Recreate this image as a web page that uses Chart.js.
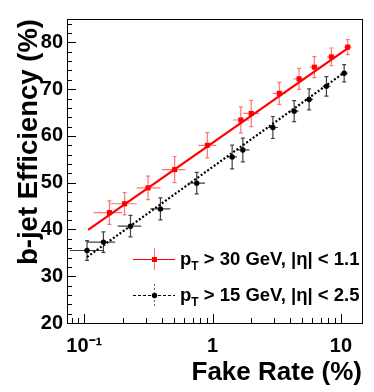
<!DOCTYPE html>
<html><head><meta charset="utf-8">
<script src="https://cdn.jsdelivr.net/npm/chart.js@4"></script>
<style>html,body{margin:0;padding:0;background:#fff}#c{display:block}</style>
</head><body>
<canvas id="c" width="374" height="392"></canvas>
<script>
// ---- data ----
const redX      = [0.157,0.206,0.314,0.506,0.910,1.66,2.00,3.31,4.72,6.21,8.43,11.3];
const redY      = [43.6,45.5,48.9,52.8,58.0,63.4,64.8,69.1,72.2,74.7,76.9,79.0];
const redYErr   = [2.5,2.4,2.5,2.8,2.7,2.8,2.8,2.35,2.25,2.25,1.9,1.6];
const redXErrLo = [0.039,0.047,0.059,0.103,0.136,0.22,0.27,0.37,0.44,0.50,0.62,0.72];
const redXErrHi = [0.040,0.051,0.078,0.107,0.159,0.26,0.31,0.42,0.49,0.55,0.68,0.78];

const blackX      = [0.105,0.141,0.229,0.392,0.752,1.42,1.72,2.95,4.32,5.65,7.71,10.6];
const blackY      = [35.5,37.3,40.7,44.4,49.9,55.5,57.0,61.8,65.3,67.8,70.6,73.4];
const blackYErr   = [2.1,2.2,2.3,2.35,2.3,2.55,2.55,2.35,2.25,2.25,2.1,1.85];
const blackXErrLo = [0.028,0.036,0.047,0.065,0.105,0.12,0.19,0.25,0.34,0.39,0.53,0.68];
const blackXErrHi = [0.035,0.033,0.049,0.077,0.121,0.13,0.22,0.28,0.36,0.42,0.58,0.73];

const redFitX   = [0.107, 11.5];
const redFitY   = [39.9, 78.9];
const blackFitX = [0.105, 10.8];
const blackFitY = [34.1, 73.7];

const xTicks      = [0.1, 1, 10];
const xTickLabels = ['10\u207B\u00B9', '1', '10'];
const yTicks      = [20, 30, 40, 50, 60, 70, 80];

const legendMain = ['p', 'p'];
const legendSub  = ['T', 'T'];
const legendRest = [' > 30 GeV, |\u03B7| < 1.1', ' > 15 GeV, |\u03B7| < 2.5'];

const xTitle = 'Fake Rate (%)';
const yTitle = 'b-jet Efficiency (%)';

const FONT = "'Liberation Sans', Arial, Helvetica, sans-serif";
const RED = '#ff0000';

function pts(xs, ys) { return xs.map((x, i) => ({x: x, y: ys[i]})); }

const errSets = [
  {x: redX, y: redY, ye: redYErr, xlo: redXErrLo, xhi: redXErrHi, color: 'rgba(255,0,0,0.55)'},
  {x: blackX, y: blackY, ye: blackYErr, xlo: blackXErrLo, xhi: blackXErrHi, color: 'rgba(0,0,0,0.75)'}
];

const errorBars = {
  id: 'errorBars',
  beforeDatasetsDraw(chart) {
    const {ctx, scales: {x, y}} = chart;
    ctx.save();
    ctx.lineWidth = 1.2;
    errSets.forEach(s => {
      ctx.strokeStyle = s.color;
      ctx.beginPath();
      s.x.forEach((xv, i) => {
        const px = x.getPixelForValue(xv), py = y.getPixelForValue(s.y[i]);
        const pl = x.getPixelForValue(xv - s.xlo[i]), pr = x.getPixelForValue(xv + s.xhi[i]);
        const pt = y.getPixelForValue(s.y[i] + s.ye[i]), pb = y.getPixelForValue(s.y[i] - s.ye[i]);
        ctx.moveTo(pl, py); ctx.lineTo(pr, py);
        ctx.moveTo(px, pt); ctx.lineTo(px, pb);
        ctx.moveTo(px - 2, pt); ctx.lineTo(px + 2, pt);
        ctx.moveTo(px - 2, pb); ctx.lineTo(px + 2, pb);
      });
      ctx.stroke();
    });
    ctx.restore();
  }
};

const frame = {
  id: 'frame',
  afterDraw(chart) {
    const {ctx, chartArea: a, scales: {x, y}} = chart;
    ctx.save();
    ctx.strokeStyle = '#000';
    ctx.lineWidth = 1;
    ctx.beginPath();
    for (let v = 20; v <= 85; v += 2) {
      const py = Math.round(y.getPixelForValue(v)) + 0.5;
      const len = (v % 10 === 0) ? 9 : 5;
      ctx.moveTo(a.left, py); ctx.lineTo(a.left + len, py);
    }
    [0.01, 0.1, 1, 10].forEach(d => {
      for (let m = 1; m <= 9; m++) {
        const v = m * d;
        if (v < x.min || v > x.max) continue;
        const px = Math.round(x.getPixelForValue(v)) + 0.5;
        const len = (m === 1) ? 9 : 5;
        ctx.moveTo(px, a.bottom); ctx.lineTo(px, a.bottom - len);
      }
    });
    ctx.stroke();
    ctx.strokeRect(Math.round(a.left) + 0.5, Math.round(a.top) + 0.5,
                   Math.round(a.right - a.left), Math.round(a.bottom - a.top));

    ctx.fillStyle = '#000';
    ctx.font = 'bold 26px ' + FONT;
    ctx.textAlign = 'right';
    ctx.textBaseline = 'alphabetic';
    ctx.fillText(xTitle, a.right, 380);
    ctx.save();
    ctx.translate(37, 0);
    ctx.rotate(-Math.PI / 2);
    ctx.font = 'bold 27.5px ' + FONT;
    ctx.fillText(yTitle, -19, 0);
    ctx.restore();

    const rows = [
      {y: 259, line: RED, dash: [], err: 'rgba(255,0,0,0.55)', errDash: [], mark: 'rect', mc: RED},
      {y: 295, line: '#000', dash: [3, 2], err: 'rgba(0,0,0,0.6)', errDash: [2, 2], mark: 'circle', mc: '#000'}
    ];
    rows.forEach((r, i) => {
      ctx.lineWidth = 1;
      ctx.strokeStyle = r.line;
      ctx.setLineDash(r.dash);
      ctx.beginPath(); ctx.moveTo(133, r.y + 0.5); ctx.lineTo(175, r.y + 0.5); ctx.stroke();
      ctx.strokeStyle = r.err;
      ctx.setLineDash(r.errDash);
      ctx.beginPath(); ctx.moveTo(154.5, r.y - 11); ctx.lineTo(154.5, r.y + 11); ctx.stroke();
      ctx.setLineDash([]);
      ctx.fillStyle = r.mc;
      if (r.mark === 'rect') ctx.fillRect(152, r.y - 2, 5, 5);
      else { ctx.beginPath(); ctx.arc(154.5, r.y + 0.5, 2.7, 0, 2 * Math.PI); ctx.fill(); }
      ctx.fillStyle = '#000';
      ctx.textAlign = 'left';
      ctx.font = 'bold 18.5px ' + FONT;
      let tx = 180;
      const base = r.y + 6;
      ctx.fillText(legendMain[i], tx, base);
      tx += ctx.measureText(legendMain[i]).width;
      ctx.font = 'bold 12px ' + FONT;
      ctx.fillText(legendSub[i], tx, base + 5);
      tx += ctx.measureText(legendSub[i]).width;
      ctx.font = 'bold 18.5px ' + FONT;
      ctx.fillText(legendRest[i], tx, base);
    });
    ctx.restore();
  }
};

new Chart(document.getElementById('c'), {
  type: 'scatter',
  data: {
    datasets: [
      {label: 'red', data: pts(redX, redY), pointStyle: 'rect', pointRadius: 3.6,
       backgroundColor: RED, borderColor: RED, borderWidth: 0},
      {label: 'black', data: pts(blackX, blackY), pointStyle: 'circle', pointRadius: 2.7,
       backgroundColor: '#000', borderColor: '#000', borderWidth: 0},
      {label: 'redFit', type: 'line', data: pts(redFitX, redFitY), borderColor: RED,
       borderWidth: 2.2, pointRadius: 0, showLine: true, fill: false},
      {label: 'blackFit', type: 'line', data: pts(blackFitX, blackFitY), borderColor: '#000',
       borderWidth: 2.2, borderDash: [2, 2], pointRadius: 0, showLine: true, fill: false}
    ]
  },
  options: {
    responsive: false,
    animation: false,
    events: [],
    layout: {padding: {top: 19, right: 12, left: 0, bottom: 0}},
    plugins: {legend: {display: false}, tooltip: {enabled: false}},
    scales: {
      x: {
        type: 'logarithmic', min: 0.0733, max: 14.6,
        afterFit(s) { s.height = 69; },
        afterBuildTicks(s) { s.ticks = xTicks.map(v => ({value: v})); },
        grid: {display: false, drawTicks: false},
        border: {display: false},
        ticks: {
          color: '#000', font: {family: FONT, size: 20, weight: 'bold'},
          padding: 11, maxRotation: 0, autoSkip: false,
          callback: (v, i) => xTickLabels[i]
        }
      },
      y: {
        type: 'linear', min: 20, max: 85,
        afterFit(s) { s.width = 67; },
        afterBuildTicks(s) { s.ticks = yTicks.map(v => ({value: v})); },
        grid: {display: false, drawTicks: false},
        border: {display: false},
        ticks: {
          color: '#000', font: {family: FONT, size: 20, weight: 'bold'},
          padding: 4, autoSkip: false,
          callback: (v) => String(v)
        }
      }
    }
  },
  plugins: [errorBars, frame]
});
</script>
</body></html>
